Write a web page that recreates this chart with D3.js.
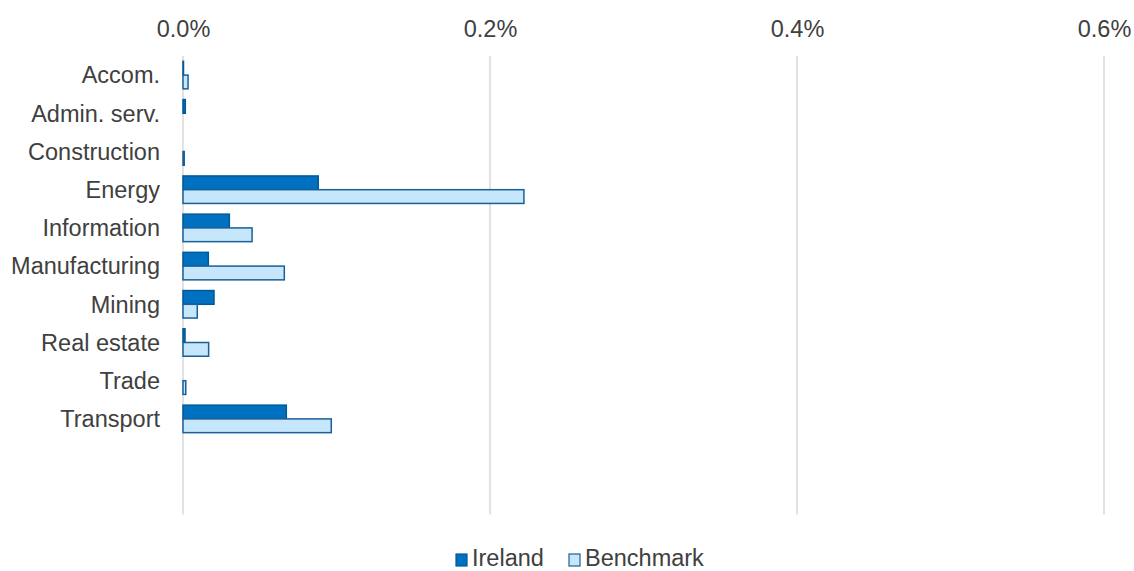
<!DOCTYPE html>
<html>
<head>
<meta charset="utf-8">
<script src="https://cdn.jsdelivr.net/npm/d3@7"></script>
<style>
  body { margin: 0; background: #fff; }
  text { font-family: "Liberation Sans", Arial, sans-serif; fill: #404040; }
</style>
</head>
<body>
<div id="chart"></div>
<script>
// data (percent)
const categories = ['Accom.', 'Admin. serv.', 'Construction', 'Energy', 'Information',
  'Manufacturing', 'Mining', 'Real estate', 'Trade', 'Transport'];
const ireland   = [0.0003, 0.0015, 0, 0.0881, 0.0302, 0.0165, 0.0202, 0.0013, 0, 0.0673];
const benchmark = [0.0033, 0, 0.0008, 0.2221, 0.0450, 0.0660, 0.0093, 0.0167, 0.0018, 0.0966];
const xTicks = [0, 0.2, 0.4, 0.6];
const seriesNames = ['Ireland', 'Benchmark'];

const W = 1134, H = 571;
const plotLeft = 183, plotRight = 1104, plotTop = 56, step = 38.2;
const plotBottom = plotTop + step * 12; // two empty slots below the last category
const fontSize = 23.5;

const svg = d3.select('#chart').append('svg')
  .attr('width', W).attr('height', H);

const x = d3.scaleLinear().domain([0, 0.6]).range([plotLeft, plotRight]);
const y = d3.scaleBand().domain(categories)
  .range([plotTop, plotTop + step * categories.length])
  .paddingInner(0.28).paddingOuter(0.14);
const sub = d3.scaleBand().domain(seriesNames).range([0, y.bandwidth()]);

// gridlines
svg.append('g').selectAll('line')
  .data(xTicks).enter().append('line')
  .attr('x1', d => x(d)).attr('x2', d => x(d))
  .attr('y1', plotTop).attr('y2', plotBottom)
  .attr('stroke', '#d9d9d9').attr('stroke-width', 1.5);

// top axis labels
const xAxis = d3.axisTop(x).tickValues(xTicks)
  .tickFormat(d => d.toFixed(1) + '%').tickSize(0).tickPadding(0);
const ax = svg.append('g').attr('transform', `translate(0,${plotTop - 19})`).call(xAxis);
ax.select('.domain').remove();
ax.selectAll('text').attr('font-size', fontSize).attr('fill', '#404040')
  .style('font-family', '"Liberation Sans", Arial, sans-serif');

// category labels
svg.append('g').selectAll('text')
  .data(categories).enter().append('text')
  .attr('x', 160)
  .attr('y', d => y(d) + y.bandwidth() / 2)
  .attr('dy', '0.35em')
  .attr('text-anchor', 'end')
  .attr('font-size', fontSize)
  .text(d => d);

const series = [
  { name: 'Ireland', values: ireland, fill: '#0070c0', stroke: '#005a96' },
  { name: 'Benchmark', values: benchmark, fill: '#c5e6fb', stroke: '#1b5f98' }
];

series.forEach(s => {
  svg.append('g').selectAll('rect')
    .data(categories.map((c, i) => ({ c, v: s.values[i] })).filter(d => d.v > 0))
    .enter().append('rect')
    .attr('x', x(0))
    .attr('y', d => y(d.c) + sub(s.name))
    .attr('width', d => Math.max(x(d.v) - x(0), 0.5))
    .attr('height', sub.bandwidth())
    .attr('fill', s.fill)
    .attr('stroke', s.stroke)
    .attr('stroke-width', 1.5);
});

// legend
const legend = svg.append('g').attr('transform', 'translate(456,566)');
const lx = [0, 113];
series.forEach((s, i) => {
  legend.append('rect')
    .attr('x', lx[i]).attr('y', -12)
    .attr('width', 11).attr('height', 12)
    .attr('fill', s.fill).attr('stroke', s.stroke).attr('stroke-width', 1.2);
  legend.append('text')
    .attr('x', lx[i] + 16).attr('y', 0)
    .attr('font-size', fontSize)
    .text(s.name);
});
</script>
</body>
</html>
